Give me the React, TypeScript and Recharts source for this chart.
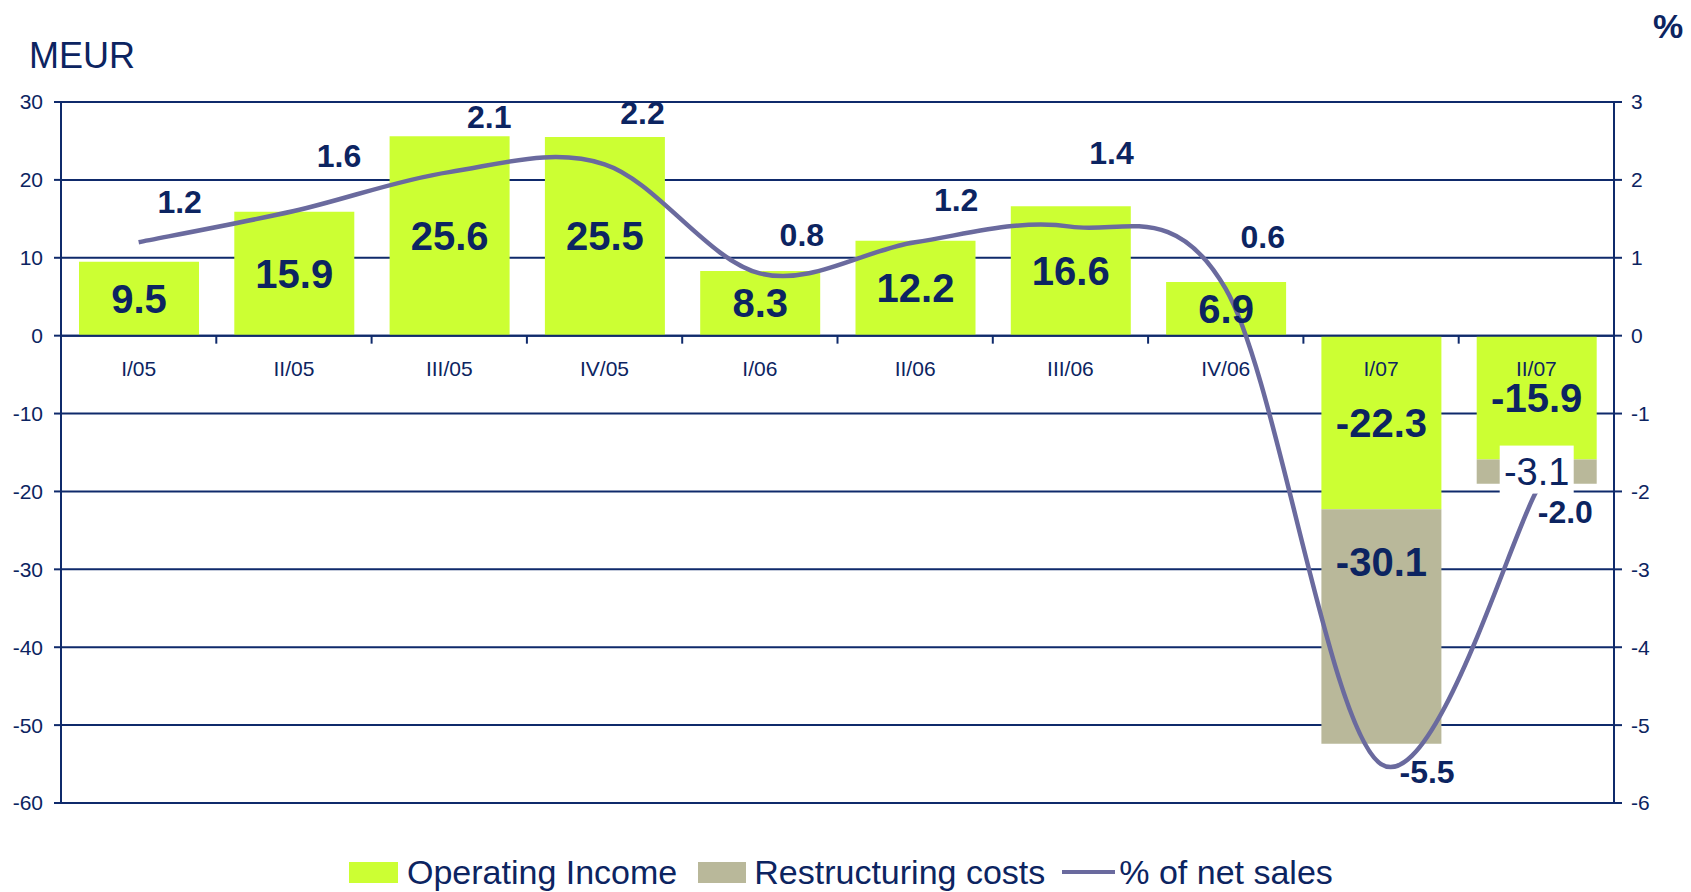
import React from "react";
import {
  ComposedChart,
  Bar,
  Line,
  XAxis,
  YAxis,
  CartesianGrid,
  ReferenceLine,
  LabelList,
  Legend,
} from "recharts";

const QUARTERS = ["I/05", "II/05", "III/05", "IV/05", "I/06", "II/06", "III/06", "IV/06", "I/07", "II/07"];
const OPERATING_INCOME = [9.5, 15.9, 25.6, 25.5, 8.3, 12.2, 16.6, 6.9, -22.3, -15.9];
const RESTRUCTURING = [null, null, null, null, null, null, null, null, -30.1, -3.1];
const PCT_OF_SALES = [1.2, 1.6, 2.1, 2.2, 0.8, 1.2, 1.4, 0.6, -5.5, -2.0];
const LEFT_TICKS = [-60, -50, -40, -30, -20, -10, 0, 10, 20, 30];
const RIGHT_TICKS = [-6, -5, -4, -3, -2, -1, 0, 1, 2, 3];

const data = QUARTERS.map((q, i) => ({
  quarter: q,
  operating: OPERATING_INCOME[i],
  restructuring: RESTRUCTURING[i],
  pct: PCT_OF_SALES[i],
}));

// layout
const W = 1691;
const H = 892;
const TOP = 102;
const BOTTOM = 89;
const X_AXIS_H = 30;
const LEFT_W = 61;
const RIGHT_W = 77;
const PLOT_W = W - LEFT_W - RIGHT_W;
const PLOT_H = H - TOP - BOTTOM;
const ZERO_Y = TOP + (PLOT_H * 30) / 90;
const BAND = PLOT_W / QUARTERS.length;

// where the % labels sit relative to their point (dx, dy)
const PCT_LABEL_OFFSET = [
  [41, -40], [45, -55], [40, -55], [38, -51], [42, -38],
  [41, -42], [41, -74], [37, -52], [46, 8], [29, 21],
];

const NAVY = "#0f2a6b";
const TEXT = "#0c2461";
const GREEN = "#ccff33";
const TAN = "#b9b89a";
const PURPLE = "#6a6a9e";
const FONT = "'Liberation Sans', Arial, sans-serif";

// Excel-like smoothed line (Catmull-Rom through the points)
const smoothCurve = (ctx: any) => {
  let pts: number[][] = [];
  return {
    areaStart() {},
    areaEnd() {},
    lineStart() {
      pts = [];
    },
    point(x: number, y: number) {
      pts.push([+x, +y]);
    },
    lineEnd() {
      if (!pts.length) return;
      ctx.moveTo(pts[0][0], pts[0][1]);
      for (let i = 0; i < pts.length - 1; i++) {
        const p0 = pts[i - 1] || pts[i];
        const p1 = pts[i];
        const p2 = pts[i + 1];
        const p3 = pts[i + 2] || p2;
        ctx.bezierCurveTo(
          p1[0] + (p2[0] - p0[0]) / 6,
          p1[1] + (p2[1] - p0[1]) / 6,
          p2[0] - (p3[0] - p1[0]) / 6,
          p2[1] - (p3[1] - p1[1]) / 6,
          p2[0],
          p2[1]
        );
      }
    },
  };
};

const QuarterTick = (props: any) => {
  const { x, index, payload } = props;
  return (
    <g>
      <text
        x={x}
        y={ZERO_Y + 40}
        textAnchor="middle"
        fill={TEXT}
        fontSize={21}
        fontFamily={FONT}
      >
        {payload.value}
      </text>
      {index < QUARTERS.length - 1 && (
        <line
          x1={x + BAND / 2}
          x2={x + BAND / 2}
          y1={ZERO_Y}
          y2={ZERO_Y + 8}
          stroke={NAVY}
          strokeWidth={2}
        />
      )}
    </g>
  );
};

const OperatingLabel = (props: any) => {
  const { x, y, width, height, value } = props;
  if (value == null) return null;
  return (
    <text
      x={x + width / 2}
      y={y + height / 2}
      textAnchor="middle"
      dominantBaseline="central"
      fill={TEXT}
      fontSize={40}
      fontWeight="bold"
      fontFamily={FONT}
    >
      {value.toFixed(1)}
    </text>
  );
};

const RestructuringLabel = (props: any) => {
  const { x, y, width, height, value } = props;
  if (value == null) return null;
  const cx = x + width / 2;
  const top = Math.min(y, y + height);
  const h = Math.abs(height);
  if (h < 60) {
    const cy = top + h / 2;
    return (
      <g>
        <rect x={cx - 37} y={cy - 26} width={74} height={48} fill="#ffffff" />
        <text
          x={cx}
          y={cy}
          textAnchor="middle"
          dominantBaseline="central"
          fill={TEXT}
          fontSize={38}
          fontFamily={FONT}
        >
          {value.toFixed(1)}
        </text>
      </g>
    );
  }
  return (
    <text
      x={cx}
      y={top + 53}
      textAnchor="middle"
      dominantBaseline="central"
      fill={TEXT}
      fontSize={40}
      fontWeight="bold"
      fontFamily={FONT}
    >
      {value.toFixed(1)}
    </text>
  );
};

const PctLabel = (props: any) => {
  const { x, y, value, index } = props;
  const [dx, dy] = PCT_LABEL_OFFSET[index] || [40, -50];
  return (
    <text
      x={x + dx}
      y={y + dy}
      textAnchor="middle"
      dominantBaseline="central"
      fill={TEXT}
      fontSize={32}
      fontWeight="bold"
      fontFamily={FONT}
    >
      {value.toFixed(1)}
    </text>
  );
};

const LegendContent = () => (
  <div
    style={{
      display: "flex",
      alignItems: "center",
      fontFamily: FONT,
      fontSize: 34,
      lineHeight: "34px",
      color: TEXT,
      whiteSpace: "nowrap",
    }}
  >
    <span style={{ width: 49, height: 21, background: GREEN, marginRight: 9 }} />
    <span style={{ marginRight: 21 }}>Operating Income</span>
    <span style={{ width: 48, height: 21, background: TAN, marginRight: 8 }} />
    <span style={{ marginRight: 17 }}>Restructuring costs</span>
    <span style={{ width: 53, height: 4, background: PURPLE, marginRight: 4 }} />
    <span>% of net sales</span>
  </div>
);

export default function App() {
  return (
    <div
      style={{
        position: "absolute",
        left: 0,
        top: 0,
        width: W,
        height: H,
        background: "#ffffff",
        fontFamily: FONT,
      }}
    >
      <div style={{ position: "absolute", left: 29, top: 36, fontSize: 36, color: TEXT, lineHeight: "40px" }}>
        MEUR
      </div>
      <div
        style={{
          position: "absolute",
          left: 1653,
          top: 6,
          fontSize: 34,
          fontWeight: "bold",
          color: TEXT,
          lineHeight: "40px",
        }}
      >
        %
      </div>
      <ComposedChart
        width={W}
        height={H}
        data={data}
        margin={{ top: TOP, right: 0, bottom: BOTTOM - X_AXIS_H, left: 0 }}
        barSize={120}
      >
        <CartesianGrid yAxisId="left" vertical={false} stroke={NAVY} strokeWidth={2} />
        <XAxis
          dataKey="quarter"
          height={X_AXIS_H}
          axisLine={false}
          tickLine={false}
          tick={<QuarterTick />}
          interval={0}
        />
        <YAxis
          yAxisId="left"
          width={LEFT_W}
          domain={[-60, 30]}
          ticks={LEFT_TICKS}
          interval={0}
          axisLine={{ stroke: NAVY, strokeWidth: 2 }}
          tickLine={{ stroke: NAVY, strokeWidth: 2 }}
          tickSize={7}
          tickMargin={11}
          tick={{ fill: TEXT, fontSize: 21, fontFamily: FONT }}
        />
        <YAxis
          yAxisId="right"
          orientation="right"
          width={RIGHT_W}
          domain={[-6, 3]}
          ticks={RIGHT_TICKS}
          interval={0}
          axisLine={{ stroke: NAVY, strokeWidth: 2 }}
          tickLine={{ stroke: NAVY, strokeWidth: 2 }}
          tickSize={8}
          tickMargin={9}
          tick={{ fill: TEXT, fontSize: 21, fontFamily: FONT }}
        />
        <Bar yAxisId="left" dataKey="operating" name="Operating Income" stackId="s" fill={GREEN} isAnimationActive={false}>
          <LabelList dataKey="operating" content={<OperatingLabel />} />
        </Bar>
        <Bar yAxisId="left" dataKey="restructuring" name="Restructuring costs" stackId="s" fill={TAN} isAnimationActive={false}>
          <LabelList dataKey="restructuring" content={<RestructuringLabel />} />
        </Bar>
        <ReferenceLine yAxisId="left" y={0} stroke={NAVY} strokeWidth={2} />
        <Line
          yAxisId="right"
          dataKey="pct"
          name="% of net sales"
          type={smoothCurve as any}
          stroke={PURPLE}
          strokeWidth={4.5}
          dot={false}
          activeDot={false}
          isAnimationActive={false}
        >
          <LabelList dataKey="pct" content={<PctLabel />} />
        </Line>
        <Legend
          layout="horizontal"
          verticalAlign="middle"
          align="center"
          content={<LegendContent />}
          wrapperStyle={{ position: "absolute", left: 349, top: 855, width: 1000 }}
        />
      </ComposedChart>
    </div>
  );
}
